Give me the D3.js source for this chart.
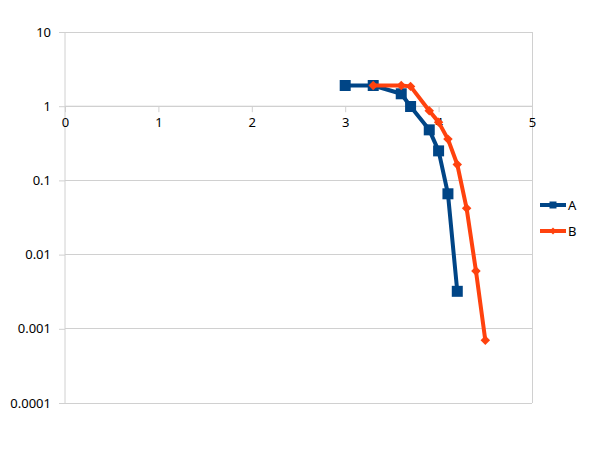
<!DOCTYPE html>
<html><head><meta charset="utf-8">
<script src="https://cdn.jsdelivr.net/npm/d3@7"></script>
<style>body{margin:0;background:#fff}svg{display:block}text{font-family:"Noto Sans",sans-serif;font-size:13px;fill:#000}</style>
</head><body><svg id="c" width="591" height="463"></svg>
<script>
const xTicks = [0, 1, 2, 3, 4, 5];
const yTicks = [10, 1, 0.1, 0.01, 0.001, 0.0001];
const yTickLabels = ["10", "1", "0.1", "0.01", "0.001", "0.0001"];
const seriesNames = ["A", "B"];
const aX = [3, 3.3, 3.6, 3.7, 3.9, 4.0, 4.1, 4.2];
const aY = [1.9, 1.9, 1.47, 0.99, 0.48, 0.25, 0.066, 0.0032];
const bX = [3.3, 3.6, 3.7, 3.9, 4.0, 4.1, 4.2, 4.3, 4.4, 4.5];
const bY = [1.9, 1.9, 1.85, 0.87, 0.61, 0.36, 0.164, 0.042, 0.006, 0.0007];
const colors = ["#004586", "#ff420e"];

const svg = d3.select("#c");
const L = 65, R = 532, T = 32, B = 403;
const x = d3.scaleLinear().domain([0, 5]).range([L, R]);
const y = d3.scaleLog().domain([0.0001, 10]).range([B, T]);
const grid = "#d0d0d0";

svg.append("g").selectAll("line").data(yTicks).join("line")
  .attr("x1", L).attr("x2", R).attr("y1", d => y(d)).attr("y2", d => y(d))
  .attr("stroke", grid).attr("stroke-width", 1).attr("shape-rendering", "crispEdges");
svg.append("line").attr("x1", R).attr("x2", R).attr("y1", T).attr("y2", B)
  .attr("stroke", grid).attr("shape-rendering", "crispEdges");

const yAxis = d3.axisLeft(y).tickValues(yTicks).tickFormat((d, i) => yTickLabels[i]).tickSize(6).tickPadding(8);
const gy = svg.append("g").attr("transform", `translate(${L},0)`).call(yAxis);
gy.select(".domain").attr("stroke", grid).attr("d", `M-0,${T}V${B}`);
gy.selectAll(".tick line").attr("stroke", grid);
gy.selectAll("text").attr("fill", "#000").style("font-size", "13px").style("font-family", '"Noto Sans",sans-serif');

const xAxis = d3.axisBottom(x).tickValues(xTicks).tickFormat(d3.format("d")).tickSize(6).tickPadding(6);
const gx = svg.append("g").attr("transform", `translate(0,${y(1)})`).call(xAxis);
gx.select(".domain").attr("stroke", grid).attr("d", `M${L},0H${R}`);
gx.selectAll(".tick line").attr("stroke", grid);
gx.selectAll("text").attr("fill", "#000").style("font-size", "13px").style("font-family", '"Noto Sans",sans-serif');

const line = d3.line().x(d => x(d[0])).y(d => y(d[1]));
const series = [
  {name: seriesNames[0], pts: aX.map((v, i) => [v, aY[i]]), size: 121, rot: 0, color: colors[0]},
  {name: seriesNames[1], pts: bX.map((v, i) => [v, bY[i]]), size: 45, rot: 45, color: colors[1]}
];
series.forEach(s => {
  svg.append("path").datum(s.pts).attr("d", line).attr("fill", "none")
    .attr("stroke", s.color).attr("stroke-width", 4).attr("stroke-linejoin", "round");
  svg.append("g").selectAll("path").data(s.pts).join("path")
    .attr("transform", d => `translate(${x(d[0])},${y(d[1])}) rotate(${s.rot})`)
    .attr("d", d3.symbol().type(d3.symbolSquare).size(s.size)).attr("fill", s.color);
});

series.forEach((s, i) => {
  const ly = 205 + i * 26;
  const g = svg.append("g");
  g.append("line").attr("x1", 540).attr("x2", 566).attr("y1", ly).attr("y2", ly)
    .attr("stroke", s.color).attr("stroke-width", 4);
  g.append("path").attr("transform", `translate(553,${ly}) rotate(${s.rot})`)
    .attr("d", d3.symbol().type(d3.symbolSquare).size(i === 0 ? 49 : 25)).attr("fill", s.color);
  g.append("text").attr("x", 568).attr("y", ly).attr("dy", "0.35em").text(s.name);
});
</script></body></html>
